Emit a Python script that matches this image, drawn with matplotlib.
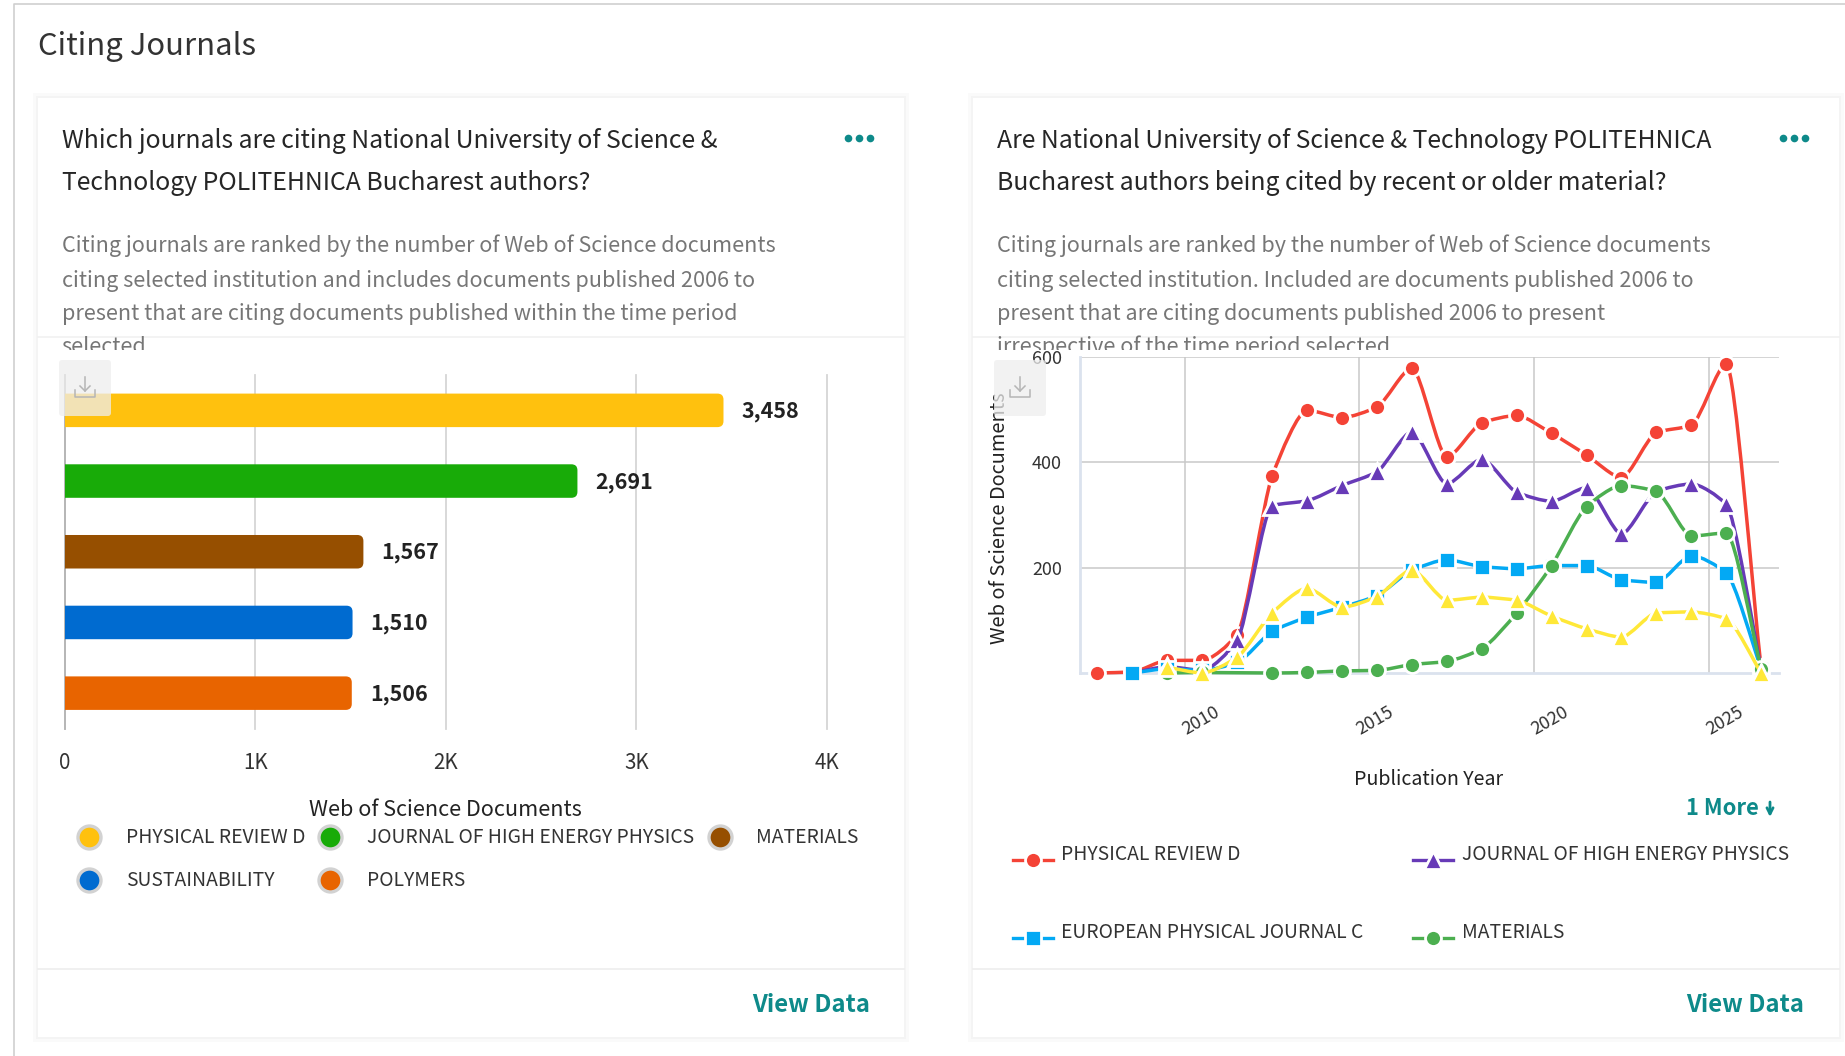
import numpy as np
import matplotlib
matplotlib.use('Agg')
import matplotlib.pyplot as plt
from matplotlib.patches import FancyBboxPatch, PathPatch, Rectangle
from matplotlib.path import Path

plt.rcParams['font.family'] = ['Noto Sans CJK SC', 'DejaVu Sans']

W, H = 1845, 1056

# bar chart data
bar_names = ['PHYSICAL REVIEW D', 'JOURNAL OF HIGH ENERGY PHYSICS', 'MATERIALS', 'SUSTAINABILITY', 'POLYMERS']
bar_values = [3458, 2691, 1567, 1510, 1506]
bar_colors = ['#ffc10e', '#18ab08', '#964f00', '#006bd0', '#e86400']

# line chart data, None = nothing plotted for that year
years = list(range(2007, 2027))
physical_review_d = [0, 2, 24, 24, 73, 374, 499, 485, 505, 579, 410, 475, 489, 455, 414, 371, 457, 470, 587, 8]
jhep = [None, 0, 12, 5, 62, 318, 327, 356, 382, 458, 359, 406, 343, 326, 352, 264, 345, 359, 320, 8]
epj_c = [None, 0, 8, 5, 20, 79, 106, 125, 147, 195, 215, 202, 198, 204, 204, 177, 172, 223, 190, 8]
materials = [None, None, 0, 1, None, 0, 1, 4, 5, 16, 22, 46, 114, 204, 316, 356, 345, 260, 266, 8]
fifth_journal = [None, None, 11, 0, 30, 114, 161, 125, 145, 196, 138, 144, 138, 108, 84, 68, 114, 116, 103, 0]

line_series = [
    ('PHYSICAL REVIEW D', physical_review_d, '#f44336', 'o', 11.5),
    ('JOURNAL OF HIGH ENERGY PHYSICS', jhep, '#673ab7', '^', 13.5),
    ('EUROPEAN PHYSICAL JOURNAL C', epj_c, '#03a9f4', 's', 11.5),
    ('MATERIALS', materials, '#4caf50', 'o', 11.5),
    ('', fifth_journal, '#ffe838', '^', 13.5),
]


def fs(px):
    return px * 0.72


def axes_px(fig, left, top, right, bottom, **kw):
    return fig.add_axes([left / W, 1 - bottom / H, (right - left) / W, (bottom - top) / H], **kw)


def monotone_path(x, y):
    # monotone cubic with short handles, the lines are almost straight between years
    x = np.asarray(x, float)
    y = np.asarray(y, float)
    h = np.diff(x)
    s = np.diff(y) / h
    m = np.zeros(len(x))
    m[0], m[-1] = s[0], s[-1]
    for i in range(1, len(x) - 1):
        if s[i - 1] * s[i] > 0:
            m[i] = 2 * s[i - 1] * s[i] / (s[i - 1] + s[i])
    verts = [(x[0], y[0])]
    codes = [Path.MOVETO]
    for i in range(len(x) - 1):
        verts += [(x[i] + h[i] / 4, y[i] + m[i] * h[i] / 4),
                  (x[i + 1] - h[i] / 4, y[i + 1] - m[i + 1] * h[i] / 4),
                  (x[i + 1], y[i + 1])]
        codes += [Path.CURVE4] * 3
    return Path(verts, codes)


fig = plt.figure(figsize=(W / 100, H / 100), dpi=100, facecolor='white')

# page, cards and texts, in pixels
bg = fig.add_axes([0, 0, 1, 1], zorder=0)
bg.set_xlim(0, W)
bg.set_ylim(H, 0)
bg.axis('off')

bg.plot([13.5, 13.5, W], [H, 4, 4], color='#cfcfcf', lw=1.2)
bg.text(38, 46.5, 'Citing Journals', fontsize=fs(31), color='#333333', va='center')

for x0, x1 in [(38, 904), (973, 1839)]:
    for grow, col in [(5, '#fafafa'), (2, '#f4f4f4')]:
        bg.add_patch(Rectangle((x0 - grow, 98 - grow), x1 - x0 + 2 * grow, 939 + 2 * grow, fc=col, ec='none'))
    bg.add_patch(Rectangle((x0, 98), x1 - x0, 939, fc='white', ec='none'))
    bg.plot([x0, x1], [337, 337], color='#f1f1f1', lw=1.2)
    bg.plot([x0, x1], [969, 969], color='#eeeeee', lw=1.2)

clip_rect = Rectangle((0, 0), W, 350, transform=bg.transData)

left_title = ['Which journals are citing National University of Science &',
              'Technology POLITEHNICA Bucharest authors?']
right_title = ['Are National University of Science & Technology POLITEHNICA',
               'Bucharest authors being cited by recent or older material?']
left_body = ['Citing journals are ranked by the number of Web of Science documents',
             'citing selected institution and includes documents published 2006 to',
             'present that are citing documents published within the time period',
             'selected']
right_body = ['Citing journals are ranked by the number of Web of Science documents',
              'citing selected institution. Included are documents published 2006 to',
              'present that are citing documents published 2006 to present',
              'irrespective of the time period selected']

for x, title, body, dots_x, view_x in [(61.5, left_title, left_body, 859, 752),
                                       (997, right_title, right_body, 1794, 1686)]:
    for y, line in zip([141.5, 183.5], title):
        bg.text(x, y, line, fontsize=fs(24.8), color='#262626', va='center')
    for y, line in zip([246, 281, 314, 347], body):
        t = bg.text(x, y, line, fontsize=fs(21.6), color='#767676', va='center')
        t.set_clip_on(True)
        t.set_clip_path(clip_rect)
    for dx in (-11, 0, 11):
        bg.plot(dots_x + dx, 138, 'o', ms=5.5, color='#0e8a8a', mew=0)
    bg.text(view_x, 1005, 'View Data', fontsize=fs(24), color='#0e8a8a', va='center', fontweight='bold')

# left legend
dot_x = [89, 330, 719.5, 89, 330]
dot_y = [836.5, 836.5, 836.5, 880, 880]
lab_x = [126, 367, 756, 126, 367]
for name, col, dx, dy, lx in zip(bar_names, bar_colors, dot_x, dot_y, lab_x):
    bg.plot(dx, dy, 'o', ms=fs(23), color=col, mec='#d2d2d2', mew=2.4)
    bg.text(lx, dy + 1, name, fontsize=fs(19.3), color='#333333', va='center')

# right legend
key_x = [(1013, 1053), (1413, 1453), (1013, 1053), (1413, 1453)]
key_y = [860, 860, 938, 938]
lab_rx = [1061, 1462.5, 1061, 1462.5]
lab_ry = [855, 855, 933, 933]
for (name, _, col, mk, ms), kx, ky, lx, ly in zip(line_series[:4], key_x, key_y, lab_rx, lab_ry):
    bg.plot(kx, [ky, ky], color=col, lw=2.4)
    bg.plot(sum(kx) / 2, ky, mk, ms=ms, color=col, mec='white', mew=2)
    bg.text(lx, ly, name, fontsize=fs(19.3), color='#333333', va='center')
bg.text(1686, 808.5, '1 More', fontsize=fs(22), color='#0e8a8a', va='center', fontweight='bold')
bg.annotate('', xy=(1770, 817), xytext=(1770, 802),
            arrowprops=dict(arrowstyle='->', color='#0e8a8a', lw=2, shrinkA=0, shrinkB=0, mutation_scale=11))

# bar chart
ax = axes_px(fig, 65, 375, 826.7, 728.5, zorder=2)
ax.patch.set_alpha(0)
ax.set_xlim(0, 4000)
ax.set_ylim(len(bar_values) - 0.5, -0.5)
px_x = 761.7 / 4000
px_y = 353.5 / len(bar_values)
rad = 6 / px_x
aspect = px_x / px_y
for i, (val, col) in enumerate(zip(bar_values, bar_colors)):
    ax.add_patch(FancyBboxPatch((-2 * rad, i - 0.237), val + 2 * rad, 0.474,
                                boxstyle=f'round,pad=0,rounding_size={rad}', mutation_aspect=aspect,
                                fc=col, ec='none', zorder=3))
    ax.annotate(f'{val:,}', xy=(val, i), xytext=(18, -1), textcoords='offset pixels', va='center',
                fontsize=fs(21.5), fontweight='bold', color='#222222')
ax.set_xticks([0, 1000, 2000, 3000, 4000])
ax.set_xticklabels(['0', '1K', '2K', '3K', '4K'], fontsize=fs(20.5), color='#333333')
ax.set_yticks([])
ax.tick_params(axis='x', length=0, pad=17)
ax.grid(axis='x', color='#d6d6d6', lw=1.3, zorder=0)
for gl in ax.get_xgridlines():
    gl.set_clip_on(False)
for side in ['top', 'right', 'bottom']:
    ax.spines[side].set_visible(False)
ax.spines['left'].set_color('#b4b4b4')
ax.spines['left'].set_linewidth(1.3)
ax.set_xlabel('Web of Science Documents', fontsize=fs(21.6), color='#222222', labelpad=18)

# line chart, each year is a band and points sit in the middle of it
ax2 = axes_px(fig, 1080, 357, 1778.7, 673, zorder=2)
ax2.patch.set_alpha(0)
ax2.set_xlim(2007, 2027)
ax2.set_ylim(0, 600)
ax2.set_xticks([2010, 2015, 2020, 2025])
ax2.set_xticklabels([])
ax2.set_yticks([200, 400, 600])
ax2.set_yticklabels(['200', '400', '600'], fontsize=fs(18), color='#333333')
ax2.tick_params(length=0, pad=13)
ax2.grid(color='#c9c9c9', lw=1.1, zorder=0)
ax2.set_axisbelow(True)
for side in ['top', 'right']:
    ax2.spines[side].set_visible(False)
for side in ['left', 'bottom']:
    ax2.spines[side].set_color('#dbe2ee')
    ax2.spines[side].set_linewidth(2)

for tick in [2010, 2015, 2020, 2025]:
    ax2.annotate(str(tick), xy=(tick, 0), xytext=(16, -48), textcoords='offset pixels', rotation=30,
                 ha='center', va='center', rotation_mode='anchor', fontsize=fs(18), color='#333333')

z = 3
for name, vals, col, mk, ms in line_series:
    xs = [yr + 0.5 for yr, v in zip(years, vals) if v is not None]
    ys = [v for v in vals if v is not None]
    ax2.add_patch(PathPatch(monotone_path(xs, ys), fc='none', ec=col, lw=2.5, zorder=z, clip_on=False))
    ax2.plot(xs, ys, mk, ms=ms, color=col, mec='white', mew=2, zorder=z + 0.5, clip_on=False)
    z += 1

fig.text(999 / W, 1 - 518 / H, 'Web of Science Documents', rotation=90, ha='center', va='center',
         fontsize=fs(20), color='#222222', zorder=4)
fig.text(1428.5 / W, 1 - 779.5 / H, 'Publication Year', ha='center', va='center',
         fontsize=fs(19.6), color='#222222', zorder=4)

# download buttons over the charts
over = fig.add_axes([0, 0, 1, 1], zorder=5)
over.set_xlim(0, W)
over.set_ylim(H, 0)
over.axis('off')
over.patch.set_alpha(0)
for bx in [59, 994]:
    over.add_patch(FancyBboxPatch((bx + 2, 362), 48, 52, boxstyle='round,pad=2,rounding_size=3',
                                  fc='#eeeeee', ec='none', alpha=0.75))
    cx = bx + 26
    over.plot([cx, cx], [377, 391], color='#b5b5b5', lw=1.1)
    over.plot([cx - 5, cx, cx + 5], [386, 391, 386], color='#b5b5b5', lw=1.1)
    over.plot([cx - 10, cx - 10, cx + 10, cx + 10], [390, 397, 397, 390], color='#b5b5b5', lw=1.1)

fig.savefig('out.png', dpi=100)
